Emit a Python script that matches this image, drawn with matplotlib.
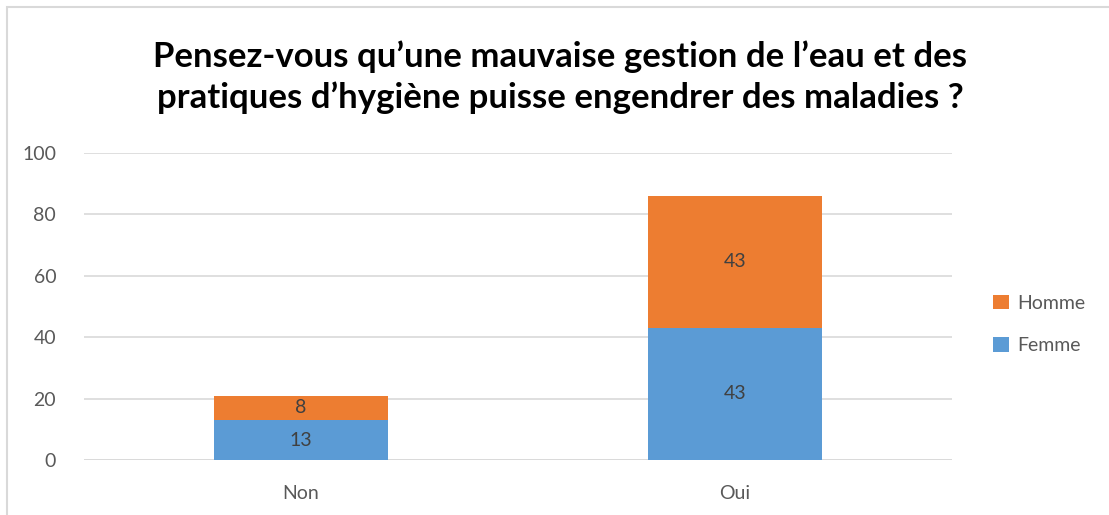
import matplotlib.pyplot as plt
from matplotlib.patches import Rectangle

plt.rcParams['font.family'] = ['Lato', 'DejaVu Sans']

categories = ['Non', 'Oui']
femme = [13, 43]
homme = [8, 43]

blue = '#5B9BD5'
orange = '#ED7D31'
txt = '#595959'

fig = plt.figure(figsize=(11.09, 5.15), dpi=100)
ax = fig.add_axes([0.0757, 0.1068, 0.7826, 0.5962])

x = range(len(categories))
b1 = ax.bar(x, femme, width=0.4, color=blue, label='Femme', zorder=3)
b2 = ax.bar(x, homme, width=0.4, bottom=femme, color=orange, label='Homme', zorder=3)

# values written in the middle of each segment
for bars in (b1, b2):
    ax.bar_label(bars, label_type='center', fontsize=14, color='#404040')

ax.set_xlim(-0.5, 1.5)
ax.set_ylim(0, 100)
ax.set_yticks(range(0, 101, 20))
ax.set_xticks(list(x))
ax.set_xticklabels(categories)
ax.yaxis.grid(True, color='#D9D9D9', linewidth=1.2, zorder=0)
ax.tick_params(axis='both', length=0, labelsize=14, labelcolor=txt)
ax.tick_params(axis='y', pad=20)
ax.tick_params(axis='x', pad=18)
for s in ax.spines.values():
    s.set_visible(False)
ax.axhline(0, color='#D9D9D9', linewidth=1.2, zorder=2)

fig.text(0.505, 0.85, "Pensez-vous qu\u2019une mauvaise gestion de l\u2019eau et des\n"
         "pratiques d\u2019hygi\u00e8ne puisse engendrer des maladies ?",
         ha='center', va='center', fontsize=25, fontweight='bold',
         linespacing=1.3, color='black')

handles, labels = ax.get_legend_handles_labels()
fig.legend(handles[::-1], labels[::-1], loc='center left',
           bbox_to_anchor=(0.88, 0.37), frameon=False, fontsize=14,
           labelcolor=txt, handlelength=0.8, handleheight=0.8,
           handletextpad=0.4, labelspacing=1.3)

# outer chart frame
fig.patches.append(Rectangle((7 / 1109, -0.1), 1.2, (515 - 7) / 515 + 0.1,
                             transform=fig.transFigure, fill=False,
                             edgecolor='#D9D9D9', linewidth=1.5))

fig.savefig('out.png', dpi=100)
